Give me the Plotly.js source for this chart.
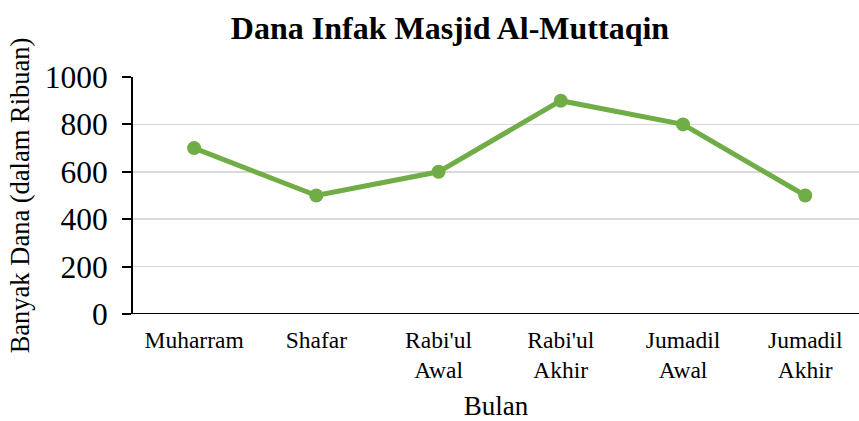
<!DOCTYPE html>
<html>
<head>
<meta charset="utf-8">
<script src="https://cdn.plot.ly/plotly-3.0.1.min.js"></script>
<style>html,body{margin:0;padding:0;background:#fff;}#chart{width:859px;height:421px;}</style>
</head>
<body>
<div id="chart"></div>
<script>
const categories = ["Muharram", "Shafar", "Rabi'ul<br>Awal", "Rabi'ul<br>Akhir", "Jumadil<br>Awal", "Jumadil<br>Akhir"];
const values = [700, 500, 600, 900, 800, 500];
const yTicks = [0, 200, 400, 600, 800, 1000];

const font = "'Liberation Serif', 'Times New Roman', serif";
const green = "#70AD47";

const trace = {
  x: categories.map((c, i) => i),
  y: values,
  type: "scatter",
  mode: "lines+markers",
  line: {color: green, width: 5},
  marker: {color: green, size: 14},
  hoverinfo: "skip"
};

const layout = {
  width: 859, height: 421,
  margin: {l: 133, r: 0, t: 77, b: 107},
  paper_bgcolor: "#fff", plot_bgcolor: "#fff",
  showlegend: false,
  font: {family: font, color: "#000"},
  title: {text: "<b>Dana Infak Masjid Al-Muttaqin</b>", font: {family: font, size: 32, color: "#000"},
          x: 450/859, xanchor: "center", xref: "container", y: 1 - 28/421, yanchor: "middle", yref: "container"},
  xaxis: {
    range: [-0.5, 5.44], tickmode: "array", tickvals: categories.map((c, i) => i), ticktext: categories,
    showgrid: false, zeroline: false, showline: false, ticks: "",
    tickfont: {family: font, size: 23.5, color: "#000"},
    ticklabelstandoff: 9,
    title: {text: "Bulan", font: {family: font, size: 27, color: "#000"}, standoff: 16},
    fixedrange: true
  },
  yaxis: {
    range: [0, 1000], tickmode: "array", tickvals: yTicks, ticktext: yTicks.map(String),
    showgrid: true, gridcolor: "#D9D9D9", gridwidth: 1.6,
    zeroline: false, showline: true, linecolor: "#000", linewidth: 2,
    ticks: "outside", ticklen: 9, tickwidth: 2, tickcolor: "#000",
    tickfont: {family: font, size: 31.5, color: "#000"},
    ticklabelstandoff: 8,
    title: {text: "Banyak Dana (dalam Ribuan)", font: {family: font, size: 26.5, color: "#000"}, standoff: 7},
    fixedrange: true
  },
  shapes: [{type: "line", xref: "paper", yref: "y", x0: -9/726, x1: 1, y0: 0, y1: 0, line: {color: "#000", width: 2}}]
};

Plotly.newPlot("chart", [trace], layout, {displayModeBar: false, staticPlot: true});
</script>
</body>
</html>
